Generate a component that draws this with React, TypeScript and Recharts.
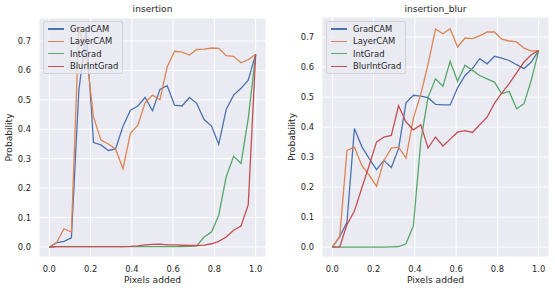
import { CartesianGrid, Label, Line, LineChart, XAxis, YAxis } from 'recharts';

// fraction of pixels added (29 steps)
const PIXELS_ADDED = [
  0, 0.036, 0.071, 0.107, 0.143, 0.179, 0.214, 0.25, 0.286, 0.321, 0.357, 0.393, 0.429, 0.464, 0.5,
  0.536, 0.571, 0.607, 0.643, 0.679, 0.714, 0.75, 0.786, 0.821, 0.857, 0.893, 0.929, 0.964, 1.0,
];

const INSERTION_GRADCAM = [
  0, 0.015, 0.019, 0.031, 0.53, 0.735, 0.355, 0.347, 0.328, 0.333, 0.41, 0.465, 0.479, 0.508, 0.463,
  0.535, 0.548, 0.482, 0.479, 0.508, 0.488, 0.433, 0.411, 0.349, 0.467, 0.516, 0.539, 0.567, 0.655,
];
const INSERTION_LAYERCAM = [
  0, 0.016, 0.062, 0.051, 0.745, 0.66, 0.442, 0.363, 0.35, 0.333, 0.266, 0.386, 0.414, 0.49, 0.516,
  0.5, 0.612, 0.665, 0.662, 0.652, 0.671, 0.672, 0.676, 0.675, 0.65, 0.648, 0.626, 0.636, 0.655,
];
const INSERTION_INTGRAD = [
  0, 0.001, 0.001, 0.001, 0.001, 0.001, 0.001, 0.001, 0.001, 0.001, 0.001, 0.001, 0.001, 0.001, 0.001,
  0.001, 0.001, 0.001, 0.001, 0.002, 0.004, 0.034, 0.051, 0.108, 0.238, 0.308, 0.284, 0.437, 0.655,
];
const INSERTION_BLURINTGRAD = [
  0, 0.001, 0.001, 0.001, 0.001, 0.001, 0.001, 0.001, 0.001, 0.001, 0.001, 0.002, 0.004, 0.007, 0.009,
  0.01, 0.007, 0.007, 0.006, 0.005, 0.005, 0.006, 0.011, 0.019, 0.034, 0.057, 0.071, 0.144, 0.655,
];

const BLUR_GRADCAM = [
  0, 0.035, 0.083, 0.395, 0.335, 0.295, 0.258, 0.289, 0.265, 0.328, 0.481, 0.506, 0.503, 0.498, 0.476,
  0.474, 0.474, 0.531, 0.572, 0.595, 0.628, 0.611, 0.636, 0.63, 0.622, 0.608, 0.595, 0.617, 0.655,
];
const BLUR_LAYERCAM = [
  0, 0.035, 0.322, 0.333, 0.272, 0.239, 0.203, 0.289, 0.33, 0.333, 0.297, 0.43, 0.51, 0.61, 0.727,
  0.711, 0.728, 0.667, 0.697, 0.695, 0.704, 0.717, 0.717, 0.693, 0.687, 0.684, 0.663, 0.653, 0.655,
];
const BLUR_INTGRAD = [
  0, 0, 0, 0, 0, 0, 0, 0, 0.001, 0.002, 0.011, 0.072, 0.355, 0.5, 0.561,
  0.536, 0.619, 0.553, 0.606, 0.589, 0.572, 0.561, 0.55, 0.511, 0.519, 0.461, 0.478, 0.556, 0.655,
];
const BLUR_BLURINTGRAD = [
  0, 0.001, 0.075, 0.12, 0.197, 0.273, 0.35, 0.367, 0.372, 0.471, 0.417, 0.391, 0.408, 0.33, 0.367,
  0.337, 0.36, 0.383, 0.388, 0.382, 0.408, 0.433, 0.48, 0.513, 0.545, 0.581, 0.617, 0.641, 0.655,
];

const X_TICKS = [0, 0.2, 0.4, 0.6, 0.8, 1.0];
const Y_TICKS = [0, 0.1, 0.2, 0.3, 0.4, 0.5, 0.6, 0.7];

const SERIES = [
  { key: 'GradCAM', color: '#4C72B0' },
  { key: 'LayerCAM', color: '#DD8452' },
  { key: 'IntGrad', color: '#55A868' },
  { key: 'BlurIntGrad', color: '#C44E52' },
];

const TEXT = '#262626';
const FONT = '"DejaVu Sans", sans-serif';
const CHART_W = 277;
const CHART_H = 291;
const Y_AXIS_W = 39;
const X_AXIS_H = 34;
const RIGHT_PAD = 11;

interface PanelProps {
  title: string;
  left: number;
  top: number;
  yDomain: [number, number];
  values: number[][];
}

const Panel = ({ title, left, top, yDomain, values }: PanelProps) => {
  const data = PIXELS_ADDED.map((x, i) => {
    const row: Record<string, number> = { x };
    SERIES.forEach((s, k) => {
      row[s.key] = values[k][i];
    });
    return row;
  });
  const plotW = CHART_W - Y_AXIS_W - RIGHT_PAD;

  return (
    <div style={{ position: 'absolute', left, top: 0, width: CHART_W, height: CHART_H }}>
      <LineChart width={CHART_W} height={CHART_H} data={data} margin={{ top, right: RIGHT_PAD, left: 0, bottom: 0 }}>
        <CartesianGrid fill="#EAEAF2" stroke="#ffffff" strokeWidth={1} />
        <XAxis
          dataKey="x"
          type="number"
          domain={[-0.05, 1.05]}
          ticks={X_TICKS}
          tickFormatter={(v: number) => v.toFixed(1)}
          height={X_AXIS_H}
          axisLine={false}
          tickLine={false}
          tickSize={0}
          tickMargin={9}
          tick={{ fontSize: 8.3, fill: TEXT, fontFamily: FONT }}
        >
          <Label value="Pixels added" position="insideBottom" offset={8} style={{ fontSize: 9.1, fill: TEXT, fontFamily: FONT }} />
        </XAxis>
        <YAxis
          type="number"
          domain={yDomain}
          allowDataOverflow
          ticks={Y_TICKS}
          tickFormatter={(v: number) => v.toFixed(1)}
          width={Y_AXIS_W}
          axisLine={false}
          tickLine={false}
          tickSize={0}
          tickMargin={8}
          tick={{ fontSize: 8.3, fill: TEXT, fontFamily: FONT }}
        >
          <Label
            value="Probability"
            angle={-90}
            position="insideLeft"
            offset={9}
            style={{ fontSize: 9.1, fill: TEXT, fontFamily: FONT, textAnchor: 'middle' }}
          />
        </YAxis>
        {SERIES.map((s) => (
          <Line
            key={s.key}
            dataKey={s.key}
            type="linear"
            stroke={s.color}
            strokeWidth={1.3}
            dot={false}
            isAnimationActive={false}
          />
        ))}
      </LineChart>
      <div
        style={{
          position: 'absolute',
          left: Y_AXIS_W,
          width: plotW,
          top: 4,
          textAlign: 'center',
          fontSize: 9.1,
          lineHeight: '11px',
          color: TEXT,
          fontFamily: FONT,
        }}
      >
        {title}
      </div>
      <div
        style={{
          position: 'absolute',
          left: 43,
          top: 21,
          width: 80,
          height: 53,
          boxSizing: 'border-box',
          background: 'rgba(234,234,242,0.8)',
          border: '1px solid rgba(204,204,204,0.8)',
          borderRadius: 2.5,
          fontFamily: FONT,
        }}
      >
        {SERIES.map((s, i) => (
          <div key={s.key} style={{ position: 'absolute', left: 0, top: 1 + 12.4 * i, height: 12, width: '100%' }}>
            <div style={{ position: 'absolute', left: 3.5, top: 5.4, width: 16.6, height: 1.3, background: s.color }} />
            <div style={{ position: 'absolute', left: 26, top: 0, lineHeight: '12px', fontSize: 8.4, color: TEXT, whiteSpace: 'nowrap' }}>
              {s.key}
            </div>
          </div>
        ))}
      </div>
    </div>
  );
};

export default function App() {
  return (
    <div style={{ position: 'absolute', left: 0, top: 0, width: 555, height: 291, background: '#ffffff', overflow: 'hidden' }}>
      <Panel
        title="insertion"
        left={0}
        top={18}
        yDomain={[-0.034, 0.778]}
        values={[INSERTION_GRADCAM, INSERTION_LAYERCAM, INSERTION_INTGRAD, INSERTION_BLURINTGRAD]}
      />
      <Panel
        title="insertion_blur"
        left={283}
        top={17}
        yDomain={[-0.033, 0.767]}
        values={[BLUR_GRADCAM, BLUR_LAYERCAM, BLUR_INTGRAD, BLUR_BLURINTGRAD]}
      />
    </div>
  );
}
